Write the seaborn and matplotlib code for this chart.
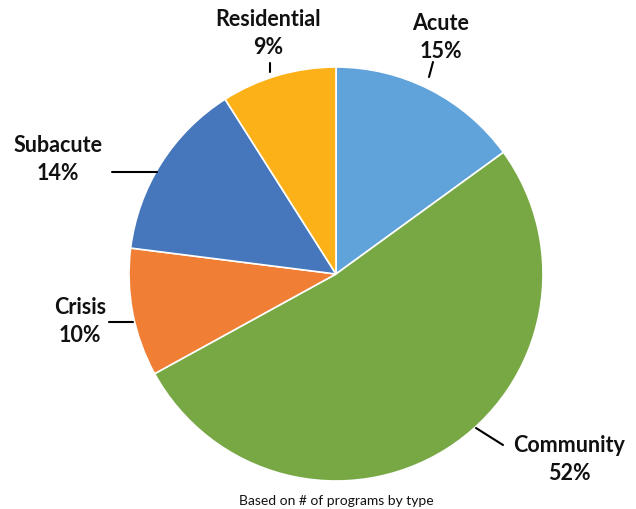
import matplotlib
matplotlib.use("Agg")
import matplotlib.pyplot as plt
import seaborn as sns

sns.set_theme(style="white")
plt.rcParams['font.family'] = ['Lato', 'DejaVu Sans']

categories = ["Acute", "Community", "Crisis", "Subacute", "Residential"]
values = [15, 52, 10, 14, 9]
colors = ["#5FA3DA", "#77A844", "#F07E34", "#4677BD", "#FCB118"]
caption = "Based on # of programs by type"

W, H = 636, 510
fig = plt.figure(figsize=(W / 100, H / 100), dpi=100)
ax = fig.add_axes([0, 0, 1, 1])

cx, cy, r = 336, H - 275, 207
ax.pie(values, colors=colors, startangle=90, counterclock=False,
       center=(cx, cy), radius=r, frame=True,
       wedgeprops=dict(edgecolor="white", linewidth=1.2))
ax.set_xlim(0, W)
ax.set_ylim(0, H)
ax.set_aspect("equal")
ax.axis("off")

# label positions (pixel coords, top-left origin)
label_pos = {
    "Acute": (441, 24),
    "Community": (569, 446),
    "Crisis": (80, 307),
    "Subacute": (58, 145),
    "Residential": (268, 20),
}
leaders = {
    "Acute": ((433, 63), (429, 78)),
    "Community": ((476, 429), (503, 446)),
    "Crisis": ((109, 323), (133, 323)),
    "Subacute": ((112, 173), (157, 173)),
    "Residential": ((270, 64), (270, 73)),
}
for cat, v in zip(categories, values):
    x, y = label_pos[cat]
    ax.text(x, H - y, cat, ha="center", va="center", fontsize=15.5,
            fontweight="bold", color="#111111")
    ax.text(x, H - y - 28, f"{v}%", ha="center", va="center", fontsize=15.5,
            fontweight="bold", color="#111111")
    (x1, y1), (x2, y2) = leaders[cat]
    ax.plot([x1, x2], [H - y1, H - y2], color="black", linewidth=1.5)

ax.text(336, H - 501, caption, ha="center", va="center", fontsize=10,
        color="#111111")

fig.savefig("out.png", dpi=100)
